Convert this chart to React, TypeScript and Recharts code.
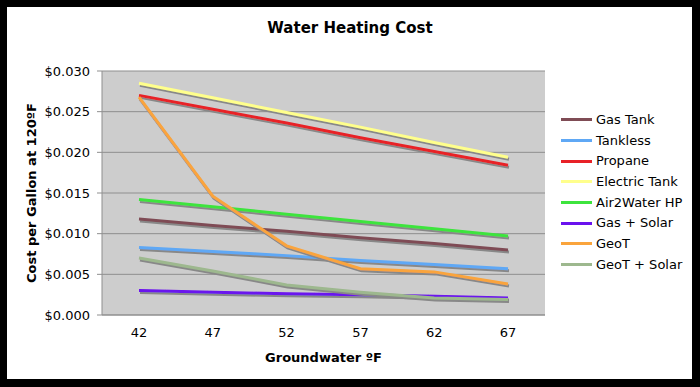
import React from 'react';
import { LineChart, Line, XAxis, YAxis, CartesianGrid, Legend } from 'recharts';

const temps = [42, 47, 52, 57, 62, 67];
const gasTank = [0.0118, 0.011, 0.0103, 0.0095, 0.0088, 0.008];
const tankless = [0.0083, 0.0078, 0.0073, 0.0067, 0.0062, 0.0057];
const propane = [0.027, 0.0253, 0.0236, 0.0218, 0.0201, 0.0184];
const electricTank = [0.0285, 0.0267, 0.0249, 0.0231, 0.0212, 0.0194];
const air2Water = [0.0142, 0.0133, 0.0124, 0.0115, 0.0106, 0.0097];
const gasSolar = [0.003, 0.0028, 0.0026, 0.0025, 0.0023, 0.0021];
const geoT = [0.0268, 0.0146, 0.0085, 0.0057, 0.0053, 0.0038];
const geoTSolar = [0.007, 0.0054, 0.0037, 0.0028, 0.0021, 0.0019];
const yTicks = [0, 0.005, 0.01, 0.015, 0.02, 0.025, 0.03];
const boundaryTicks = [0, 1, 2, 3, 4, 5, 6];

const seriesNames = ['Gas Tank', 'Tankless', 'Propane', 'Electric Tank', 'Air2Water HP', 'Gas + Solar', 'GeoT', 'GeoT + Solar'];
const seriesValues = [gasTank, tankless, propane, electricTank, air2Water, gasSolar, geoT, geoTSolar];
const seriesColors = ['#7F4C55', '#5FA8F5', '#E82127', '#FFFF8C', '#3DE43D', '#6A12EE', '#FAA43C', '#9DB88E'];

const data = temps.map((t, i) => {
  const row: Record<string, number> = { temp: t };
  seriesNames.forEach((n, s) => {
    row[n] = seriesValues[s][i];
  });
  return row;
});

const FONT = '"DejaVu Sans", Verdana, sans-serif';

const LegendContent = (props: any) => {
  const payload = [...(props.payload || [])].sort(
    (a: any, b: any) => seriesNames.indexOf(a.value) - seriesNames.indexOf(b.value)
  );
  return (
    <div style={{ fontFamily: FONT, fontSize: 13, color: '#000' }}>
      {payload.map((p: any) => (
        <div key={p.value} style={{ height: 20.7, display: 'flex', alignItems: 'center' }}>
          <div style={{ width: 31, height: 3, background: p.color, marginLeft: 6, marginRight: 4 }} />
          <span style={{ lineHeight: '20px', whiteSpace: 'nowrap' }}>{p.value}</span>
        </div>
      ))}
    </div>
  );
};

export default function App() {
  return (
    <div style={{ position: 'absolute', left: 0, top: 0, width: 700, height: 387, background: '#000', overflow: 'hidden' }}>
      <svg width={0} height={0} style={{ position: 'absolute' }}>
        <defs>
          <filter id="lineShadow" filterUnits="userSpaceOnUse" x={0} y={0} width={700} height={387}>
            <feDropShadow dx={1} dy={2} stdDeviation={0.4} floodColor="#888888" floodOpacity={1} />
          </filter>
        </defs>
      </svg>
      <style>{`.recharts-line-curve { filter: url(#lineShadow); }`}</style>
      <div style={{ position: 'absolute', left: 7, top: 7, width: 685, height: 372, background: '#fff' }} />
      <div
        style={{
          position: 'absolute',
          left: 0,
          top: 19,
          width: 700,
          textAlign: 'center',
          fontFamily: FONT,
          fontWeight: 'bold',
          fontSize: 15,
          lineHeight: '18px',
          color: '#000',
        }}
      >
        Water Heating Cost
      </div>
      <div style={{ position: 'absolute', left: 0, top: 0 }}>
        <LineChart width={700} height={387} data={data} margin={{ top: 71, right: 155, bottom: 22, left: 0 }}>
          <CartesianGrid xAxisId="cat" vertical={false} stroke="#8F8F8F" fill="#CDCDCD" fillOpacity={1} />
          <XAxis
            xAxisId="bounds"
            type="number"
            domain={[0, 6]}
            ticks={boundaryTicks}
            height={0}
            axisLine={false}
            tickLine={{ stroke: '#8F8F8F' }}
            tickSize={5}
            tickFormatter={() => ''}
            allowDataOverflow
          />
          <XAxis
            xAxisId="cat"
            dataKey="temp"
            type="category"
            height={50}
            padding={{ left: 37, right: 37 }}
            axisLine={{ stroke: '#8F8F8F' }}
            tickLine={false}
            tickSize={5}
            tickMargin={8}
            tick={{ fill: '#000', fontSize: 13, fontFamily: FONT }}
            label={{
              content: (lp: any) => {
                const vb = lp.viewBox;
                return (
                  <text
                    x={vb.x + vb.width / 2}
                    y={vb.y + 42}
                    textAnchor="middle"
                    dominantBaseline="central"
                    fontFamily={FONT}
                    fontWeight="bold"
                    fontSize={13}
                    fill="#000"
                  >
                    Groundwater ºF
                  </text>
                );
              },
            }}
          />
          <YAxis
            type="number"
            domain={[0, 0.03]}
            ticks={yTicks}
            width={102}
            axisLine={{ stroke: '#8F8F8F' }}
            tickLine={{ stroke: '#8F8F8F' }}
            tickSize={5}
            tickMargin={7}
            tick={{ fill: '#000', fontSize: 13, fontFamily: FONT }}
            tickFormatter={(v: number) => '$' + v.toFixed(3)}
            label={{
              content: (lp: any) => {
                const vb = lp.viewBox;
                const cx = vb.x + 31;
                const cy = vb.y + vb.height / 2;
                return (
                  <text
                    x={cx}
                    y={cy}
                    transform={`rotate(-90 ${cx} ${cy})`}
                    textAnchor="middle"
                    dominantBaseline="central"
                    fontFamily={FONT}
                    fontWeight="bold"
                    fontSize={13}
                    fill="#000"
                  >
                    Cost per Gallon at 120ºF
                  </text>
                );
              },
            }}
          />
          <YAxis yAxisId="r" orientation="right" width={0} tick={false} tickLine={false} axisLine={{ stroke: '#8F8F8F' }} />
          <Legend
            layout="vertical"
            align="center"
            verticalAlign="middle"
            content={<LegendContent />}
            wrapperStyle={{ left: 555, top: 109.5, width: 135 }}
          />
          {seriesNames.map((n, s) => (
            <Line
              key={n}
              xAxisId="cat"
              type="linear"
              dataKey={n}
              name={n}
              stroke={seriesColors[s]}
              strokeWidth={3}
              dot={false}
              activeDot={false}
              isAnimationActive={false}
            />
          ))}
        </LineChart>
      </div>
    </div>
  );
}
